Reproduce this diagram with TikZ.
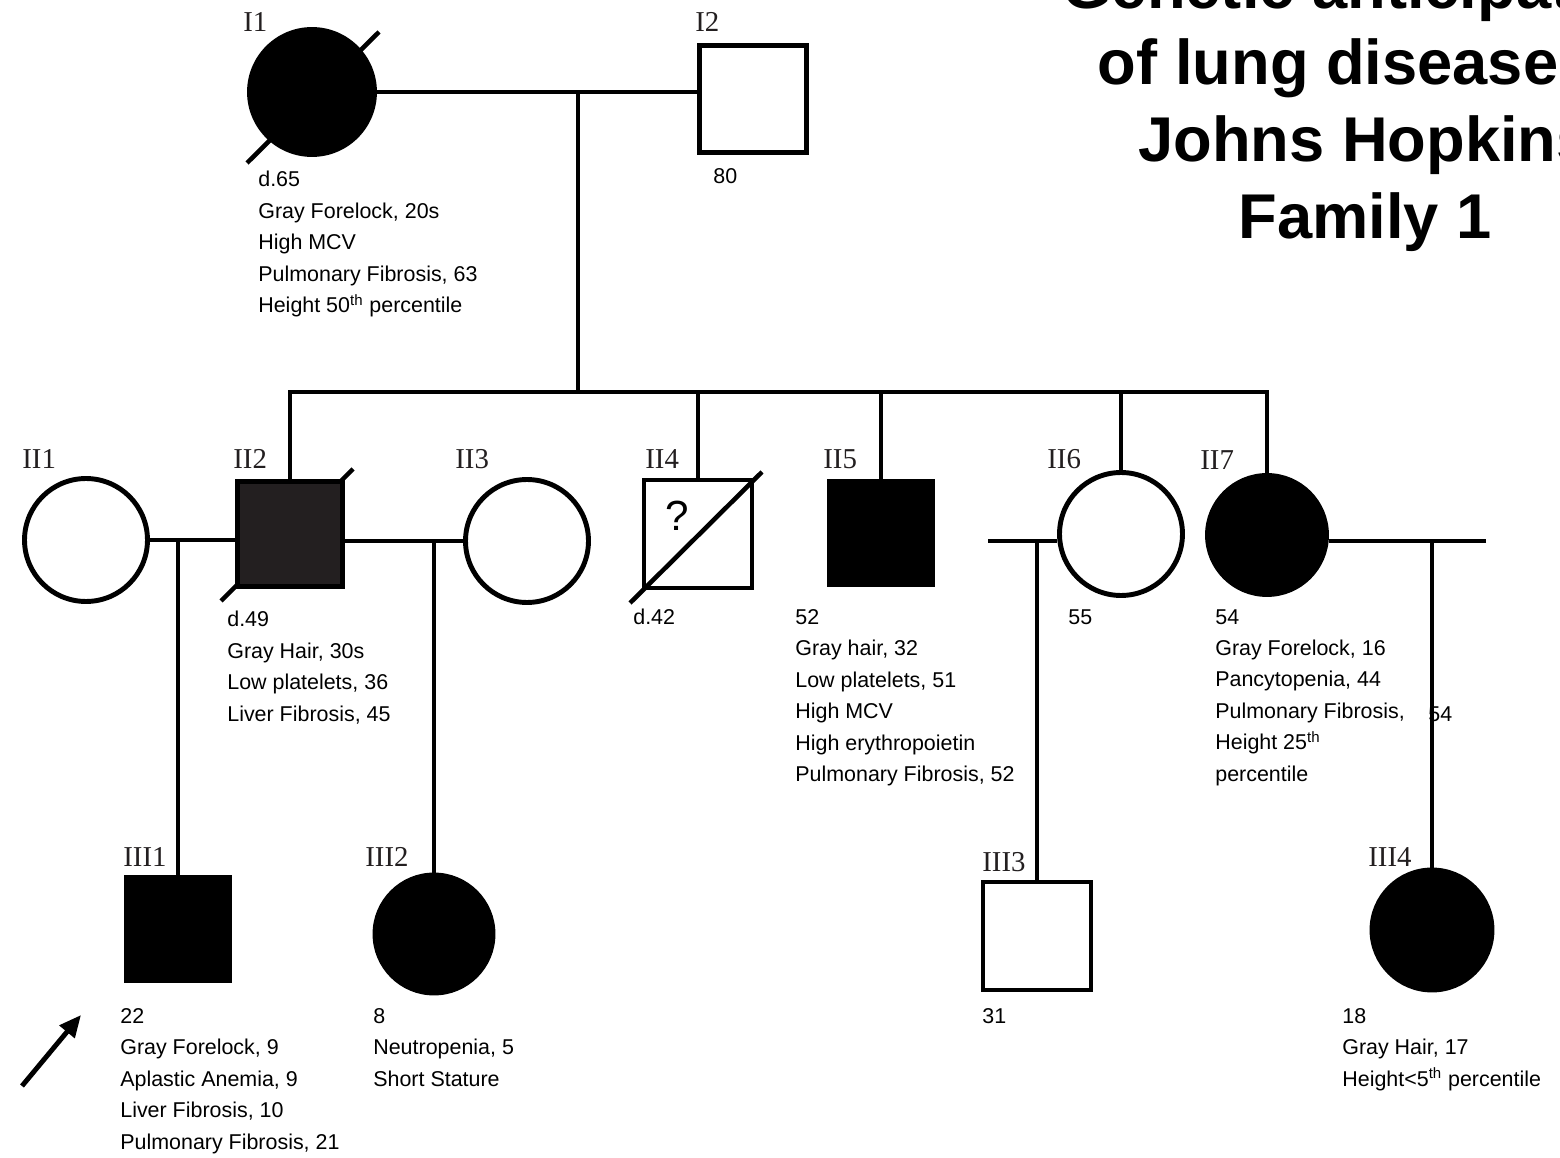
\documentclass[tikz,border=0pt]{standalone}
\usepackage{fontspec}
\setmainfont{Liberation Serif}
\setsansfont{Liberation Sans}
\usetikzlibrary{arrows.meta, positioning, calc, backgrounds}
\definecolor{pedink}{RGB}{35,31,32}

\begin{document}
\begin{tikzpicture}[x=0.02cm, y=-0.02cm,
  male/.style={rectangle, draw=black, line width=2.8pt, fill=white,
               minimum size=2.14cm, inner sep=0pt},
  female/.style={circle, draw=black, line width=2.8pt, fill=white,
                 minimum size=2.46cm, inner sep=0pt},
  affected/.style={fill=black},
  link/.style={line width=2.8pt},
  dead/.style={line width=2.6pt},
  gen/.style={font=\fontsize{16.4}{18}\selectfont, text=pedink,
              anchor=base west, inner sep=0pt},
  info/.style={font=\sffamily\fontsize{12.2}{17.9}\selectfont, align=left,
               anchor=north west, inner sep=0pt},
  pointer/.style={line width=2.8pt, -{Triangle[length=0.44cm, width=0.38cm]}}
]
  \useasboundingbox (0,0) rectangle (1560,1158);
  \clip (0,0) rectangle (1560,1158);

  % title
  \node[font=\sffamily\bfseries\fontsize{36}{43.7}\selectfont, align=center, anchor=north,
        inner sep=0pt] (title) at (1365,-38)
        {Genetic anticipation\\of lung disease in\\Johns Hopkins\\Family 1};

  % generation I
  \node[female, affected, minimum size=2.5cm] (I1) at (312,92) {};
  \node[male] (I2) at (753,99) {};
  % generation II
  \node[female] (II1) at (86,540) {};
  \node[male, fill=pedink, minimum size=2.1cm] (II2) at (290,534) {};
  \node[female] (II3) at (527,541) {};
  \node[male, fill=none, minimum size=2.16cm] (II4) at (698,534) {};
  \node[male, affected, minimum size=2.06cm] (II5) at (881,533) {};
  \node[female] (II6) at (1121,534) {};
  \node[female, affected, minimum size=2.38cm] (II7) at (1267,535) {};
  % generation III
  \node[male, affected, minimum size=2.06cm] (III1) at (178,929) {};
  \node[female, affected, minimum size=2.36cm] (III2) at (434,934) {};
  \node[male, minimum size=2.16cm] (III3) at (1037,936) {};
  \node[female, affected, minimum size=2.4cm] (III4) at (1432,930) {};

  \node[font=\sffamily\fontsize{24}{28}\selectfont, inner sep=0pt] (q4) at (677,516) {?};

  % ids
  \node[gen] (lI1) at (243,32) {I1};
  \node[gen] (lI2) at (695,32) {I2};
  \node[gen] (lII1) at (22,469) {II1};
  \node[gen] (lII2) at (233,469) {II2};
  \node[gen] (lII3) at (455,469) {II3};
  \node[gen] (lII4) at (645,469) {II4};
  \node[gen] (lII5) at (823,469) {II5};
  \node[gen] (lII6) at (1047,469) {II6};
  \node[gen] (lII7) at (1200,470) {II7};
  \node[gen] (lIII1) at (123,867) {III1};
  \node[gen] (lIII2) at (365,867) {III2};
  \node[gen] (lIII3) at (982,872) {III3};
  \node[gen] (lIII4) at (1368,867) {III4};

  % clinical notes
  \node[info] (tI1) at (258,171) {d.65\\Gray Forelock, 20s\\High MCV\\Pulmonary Fibrosis, 63\\
        Height 50\textsuperscript{th} percentile};
  \node[info] (tI2) at (713,168) {80};
  \node[info] (tII2) at (227,611) {d.49\\Gray Hair, 30s\\Low platelets, 36\\Liver Fibrosis, 45};
  \node[info] (tII4) at (633,609) {d.42};
  \node[info] (tII5) at (795,609) {52\\Gray hair, 32\\Low platelets, 51\\High MCV\\
        High erythropoietin\\Pulmonary Fibrosis, 52};
  \node[info] (tII6) at (1068,609) {55};
  \node[info] (tII7) at (1215,609) {54\\Gray Forelock, 16\\Pancytopenia, 44\\Pulmonary Fibrosis,\\
        Height 25\textsuperscript{th}\\percentile};
  \node[info] (tII7b) at (1428,706) {54};
  \node[info] (tIII1) at (120,1008) {22\\Gray Forelock, 9\\Aplastic Anemia, 9\\Liver Fibrosis, 10\\
        Pulmonary Fibrosis, 21};
  \node[info] (tIII2) at (373,1008) {8\\Neutropenia, 5\\Short Stature};
  \node[info] (tIII3) at (982,1008) {31};
  \node[info] (tIII4) at (1342,1008) {18\\Gray Hair, 17\\Height<5\textsuperscript{th} percentile};

  % lines of descent
  \draw[link] (I1.east) -- (I1.east -| I2.west);
  \coordinate (m1) at (578,92);
  \coordinate (sib) at (578,392);
  \draw[link] (m1) -- (sib);
  \draw[link] (II2.north) |- (sib) -| (II7.north);
  \foreach \k in {II4,II5,II6}
    \draw[link] (sib -| \k.north) -- (\k.north);

  \draw[link] (II1.east) -- (II1.east -| II2.west);
  \draw[link] (II3.west) -- (II3.west -| II2.east);
  \coordinate (sp6) at (988,541);
  \draw[link] (sp6) -- (sp6 -| II6.west);
  \coordinate (sp7) at (1486,541);
  \draw[link] (sp7) -- (sp7 -| II7.east);

  \coordinate (c1) at (178,540);
  \coordinate (c2) at (434,541);
  \coordinate (c3) at (1037,541);
  \coordinate (c4) at (1432,541);
  \draw[link] (c1) -- (III1.north);
  \draw[link] (c2) -- (III2.north);
  \draw[link] (c3) -- (III3.north);
  \draw[link] (c4) -- (III4.north);

  % deceased
  \begin{scope}[on background layer]
    \draw[dead] ($(I1.center)+(-65,71)$) -- ($(I1.center)+(67,-60)$);
    \draw[dead] ($(II2.center)+(-69,67)$) -- ($(II2.center)+(63,-65)$);
  \end{scope}
  \draw[dead] ($(II4.center)+(-68,69)$) -- ($(II4.center)+(64,-62)$);

  % proband
  \coordinate (ptail) at (22,1086);
  \coordinate (phead) at (81,1015);
  \draw[pointer] (ptail) -- (phead);
\end{tikzpicture}
\end{document}
